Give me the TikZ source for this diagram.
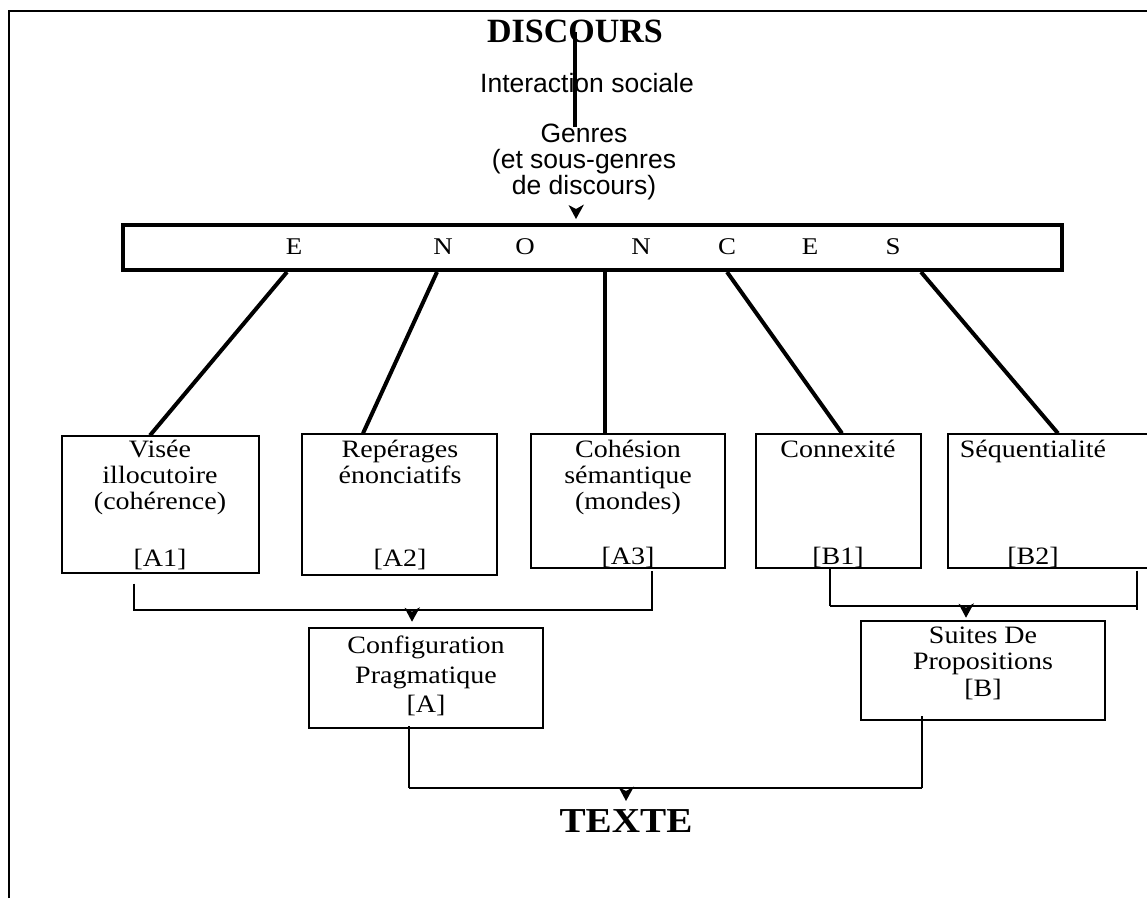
\documentclass[tikz,border=0pt]{standalone}
\usepackage{fontspec}
\setmainfont{Liberation Serif}
\newfontfamily\arialfont{Liberation Sans}
\newfontfamily\widefont[FakeStretch=1.12]{Liberation Serif}
\usetikzlibrary{arrows.meta}
\newcommand{\downhead}[1]{\fill (#1) -- ++(-7.5,-14) -- ++(7.5,4) -- ++(8,-4.5) -- cycle;}
\begin{document}
\begin{tikzpicture}[x=1pt,y=-1pt,
  thinbox/.style={draw, line width=1.3pt, inner sep=0pt},
  midbox/.style={draw, line width=2.6pt, inner sep=0pt},
  bigtitle/.style={font=\bfseries\fontsize{34}{34}\selectfont, inner sep=0pt},
  sanstext/.style={font=\arialfont\fontsize{26.5}{26}\selectfont, align=center, inner sep=0pt},
  boxtext/.style={font=\widefont\fontsize{25}{26}\selectfont, align=center, inner sep=0pt},
  lettertext/.style={font=\widefont\fontsize{24}{24}\selectfont, inner sep=0pt},
  branch/.style={line width=4pt},
  bracketline/.style={line width=1.4pt},
  bracketleg/.style={line width=2.4pt},
]
\useasboundingbox (0,0) rectangle (1147,898);
% frame
\draw[line width=2pt] (9,898) -- (9,11) -- (1147,11);

% top chain
\node[bigtitle] (disc) at (575,31) {DISCOURS};
\node[sanstext] (inter) at (587,83) {Interaction sociale};
\node[sanstext] (genres) at (584,162) {Genres\\(et sous-genres\\de discours)};
\coordinate (v0) at (575,32);
\draw[branch] (v0) -- (v0 |- inter.center);
\draw[branch] (v0 |- inter.center) -- (575,127);

% ENONCES box
\node[draw, line width=4pt, inner sep=0pt, minimum width=939pt, minimum height=45pt] (en) at (592.5,247.5) {};
\coordinate (gtip) at ([xshift=-16.5pt,yshift=4pt]en.north);
\downhead{gtip}
\foreach \x/\l in {294/E,443/N,525/O,641/N,727/C,810/E,893/S}
  \node[lettertext] (l\x) at (\x,247) {\l};

% boxes
\node[thinbox, minimum width=197pt, minimum height=137pt] (a1) at (160.5,504.5) {};
\node[thinbox, minimum width=195pt, minimum height=141pt] (a2) at (399.5,504.5) {};
\node[thinbox, minimum width=194pt, minimum height=134pt] (a3) at (628,501) {};
\node[thinbox, minimum width=165pt, minimum height=134pt] (b1) at (838.5,501) {};
\node[thinbox, minimum width=230pt, minimum height=134pt] (b2) at (1063,501) {};

\node[boxtext, anchor=north] (a1t) at (160,440) {Visée\\illocutoire\\(cohérence)};
\node[boxtext, anchor=base] (a1l) at (160,566) {[A1]};
\node[boxtext, anchor=north] (a2t) at (400,440) {Repérages\\énonciatifs};
\node[boxtext, anchor=base] (a2l) at (400,566) {[A2]};
\node[boxtext, anchor=north] (a3t) at (628,440) {Cohésion\\sémantique\\(mondes)};
\node[boxtext, anchor=base] (a3l) at (628,564) {[A3]};
\node[boxtext, anchor=north] (b1t) at (838,440) {Connexité};
\node[boxtext, anchor=base] (b1l) at (838,564) {[B1]};
\node[boxtext, anchor=north] (b2t) at (1033,440) {Séquentialité};
\node[boxtext, anchor=base] (b2l) at (1033,564) {[B2]};

% branches from ENONCES
\draw[branch] ([xshift=-305.5pt]en.south) -- ([xshift=-10.5pt]a1.north);
\draw[branch] ([xshift=-155.5pt]en.south) -- ([xshift=-36.5pt]a2.north);
\draw[branch] ([xshift=12.5pt]en.south) -- ([xshift=-23pt]a3.north);
\draw[branch] ([xshift=134.5pt]en.south) -- ([xshift=3.5pt]b1.north);
\draw[branch] ([xshift=328.5pt]en.south) -- ([xshift=-5pt]b2.north);

% second-level boxes
\node[midbox, minimum width=234pt, minimum height=100pt] (cfg) at (426,678) {};
\node[boxtext, font=\widefont\fontsize{25}{29.5}\selectfont] (cfgt) at (426,676) {Configuration\\Pragmatique\\{[A]}};
\node[midbox, minimum width=244pt, minimum height=99pt] (sui) at (983,670.5) {};
\node[boxtext, font=\widefont\fontsize{25}{26.5}\selectfont] (suit) at (983,663) {Suites De\\Propositions\\{[B]}};

% left bracket
\coordinate (lbL) at (134,610);
\coordinate (lbR) at (652,610);
\draw[bracketline] ([yshift=-10pt]a1.south -| lbL) -- (lbL) -- (lbR) -- ([yshift=-2pt]a3.south -| lbR);
\coordinate (ltip) at ([xshift=-14pt,yshift=5pt]cfg.north);
\downhead{ltip}

% right bracket
\coordinate (rbL) at (830,606);
\coordinate (rbR) at (1137,606);
\draw[bracketline] (rbL) -- (rbR);
\draw[bracketleg] (b1.south -| rbL) -- (rbL);
\draw[bracketleg] ([yshift=-2pt]b2.south -| rbR) -- ([yshift=-4pt]rbR);
\coordinate (rtip) at ([xshift=-17pt,yshift=2pt]sui.north);
\downhead{rtip}

% bottom bracket
\coordinate (bbL) at (409,788);
\coordinate (bbR) at (922,788);
\node[font=\bfseries\widefont\fontsize{35}{35}\selectfont, inner sep=0pt] (texte) at (626,821) {TEXTE};
\draw[bracketline] (bbL) -- (bbR);
\draw[bracketleg, line width=2pt] ([yshift=3pt]cfg.south -| bbL) -- (bbL);
\draw[bracketleg, line width=2pt] ([yshift=5pt]sui.south -| bbR) -- (bbR);
\coordinate (btip) at ([yshift=-13pt]texte.north |- bbL);
\downhead{btip}
\end{tikzpicture}
\end{document}
